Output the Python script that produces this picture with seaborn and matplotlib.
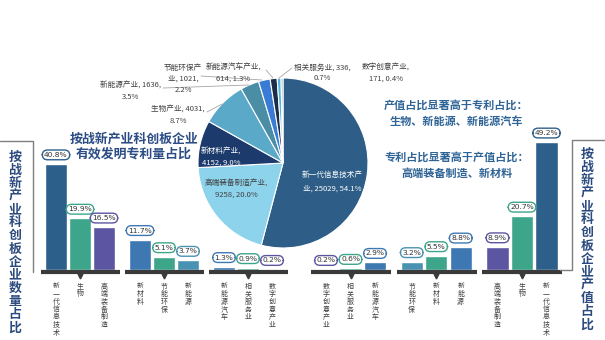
import matplotlib
matplotlib.use("Agg")
import matplotlib.pyplot as plt
import seaborn as sns
import pandas as pd
from matplotlib.lines import Line2D

sns.set_theme(style="white")
plt.rcParams['font.family'] = ['Noto Sans CJK SC', 'DejaVu Sans']

# ---------------- data ----------------
left_cats = ['新一代信息技术', '生物', '高端装备制造', '新材料', '节能环保', '新能源',
             '新能源汽车', '相关服务业', '数字创意产业']
left_vals = [40.8, 19.9, 16.5, 11.7, 5.1, 3.7, 1.3, 0.9, 0.2]

right_cats = ['数字创意产业', '相关服务业', '新能源汽车', '节能环保', '新材料', '新能源',
              '高端装备制造', '生物', '新一代信息技术']
right_vals = [0.2, 0.6, 2.9, 3.2, 5.5, 8.8, 8.9, 20.7, 49.2]

pie_cats = ['新一代信息技术产业', '高端装备制造产业', '新材料产业', '生物产业', '新能源产业',
            '节能环保产业', '新能源汽车产业', '相关服务业', '数字创意产业']
pie_counts = [25029, 9258, 4152, 4031, 1636, 1021, 614, 336, 171]
pie_pcts = [54.1, 20.0, 9.0, 8.7, 3.5, 2.2, 1.3, 0.7, 0.4]

left_title = '按战新产业科创板企业数量占比'
right_title = '按战新产业科创板企业产值占比'
pie_title = '按战新产业科创板企业\n有效发明专利量占比'
note1 = '产值占比显著高于专利占比：\n生物、新能源、新能源汽车'
note2 = '专利占比显著高于产值占比：\n高端装备制造、新材料'

# ---------------- styles ----------------
DARK = '#2D5F8B'; GREEN = '#3DA58A'; PURPLE = '#5B55A2'; BLUE = '#3E78B2'; TEAL = '#4A92B1'
left_colors = [DARK, GREEN, PURPLE, BLUE, GREEN, TEAL, BLUE, GREEN, PURPLE]
right_colors = [PURPLE, GREEN, BLUE, TEAL, GREEN, BLUE, PURPLE, GREEN, DARK]
pie_colors = ['#2E5E87', '#8DD3EC', '#1D3A6C', '#5BA9C9', '#4A8EA6', '#3A7BD5',
              '#1B2D47', '#4DB6DD', '#9AA9B5']
slot_pos = [0, 1, 2, 3.5, 4.5, 5.5, 7, 8, 9]
groups = [(0, 2), (3.5, 5.5), (7, 9)]

W, H = 605, 340
fig = plt.figure(figsize=(W / 100, H / 100), dpi=100)
fig.patch.set_facecolor('white')


def fx(x):
    return x / W


def fy(y):
    return 1 - y / H


def axes_px(l, t, r, b):
    return fig.add_axes([fx(l), fy(b), (r - l) / W, (b - t) / H])


def bar_panel(ax, cats, vals, colors, xlim):
    df = pd.DataFrame({'pos': slot_pos, 'val': vals, 'cat': cats})
    sns.barplot(data=df, x='pos', y='val', hue='cat', palette=dict(zip(cats, colors)),
                native_scale=True, width=0.9, dodge=False, legend=False,
                saturation=1, ax=ax, errorbar=None)
    ax.set_xlim(*xlim)
    ax.set_ylim(0, 50)
    ax.set_yticks([])
    ax.set_xlabel('')
    ax.set_ylabel('')
    for s in ax.spines.values():
        s.set_visible(False)
    ax.set_facecolor('none')
    ax.set_xticks(slot_pos)
    ax.set_xticklabels(['\n'.join(c) for c in cats], fontsize=5, color='#404040',
                       linespacing=0.95)
    ax.tick_params(axis='x', length=0, pad=9)
    for p, v, c in zip(slot_pos, vals, colors):
        ax.annotate(f'{v}%', xy=(p, v), xytext=(0, 6.5), textcoords='offset points',
                    ha='center', va='center', fontsize=5.4, color='#333333',
                    family='DejaVu Sans',
                    bbox=dict(boxstyle='round,pad=0.25,rounding_size=0.7', fc='white',
                              ec=c, lw=1))
    tr = ax.get_xaxis_transform()
    for a, b in groups:
        ax.plot([a - 0.62, b + 0.65], [-0.012, -0.012], color='#3A3A3A', lw=3,
                transform=tr, clip_on=False, solid_capstyle='butt')
        ax.plot([(a + b) / 2], [-0.045], marker='v', ms=3.5, color='#3A3A3A',
                transform=tr, clip_on=False)


ax_l = axes_px(33, 140, 295, 270)
bar_panel(ax_l, left_cats, left_vals, left_colors, ((33 - 56) / 24, (295 - 56) / 24))
ax_r = axes_px(312, 140, 560, 270)
bar_panel(ax_r, right_cats, right_vals, right_colors, ((312 - 326) / 24.5, (560 - 326) / 24.5))

# ---------------- pie ----------------
ax_p = axes_px(198, 78, 368, 248)
ax_p.pie(pie_counts, colors=pie_colors, startangle=90, counterclock=False,
         wedgeprops=dict(edgecolor='white', linewidth=0.8))
ax_p.set_xlim(-1, 1)
ax_p.set_ylim(-1, 1)


def T(x, y, s, **kw):
    fig.text(fx(x), fy(y), s, ha=kw.pop('ha', 'center'), va=kw.pop('va', 'center'), **kw)


def L(pts, **kw):
    fig.add_artist(Line2D([fx(p[0]) for p in pts], [fy(p[1]) for p in pts],
                          transform=fig.transFigure, **kw))


lab = dict(fontsize=5.5, color='#404040', linespacing=1.5)
T(183, 79, f'节能环保产\n业, {pie_counts[5]},\n{pie_pcts[5]}%', **lab)
T(233, 73, f'{pie_cats[6]},\n{pie_counts[6]}, {pie_pcts[6]}%', **lab)
T(322, 73, f'{pie_cats[7]}, {pie_counts[7]},\n{pie_pcts[7]}%', **lab)
T(386, 73, f'{pie_cats[8]},\n{pie_counts[8]}, {pie_pcts[8]}%', **lab)
T(131, 91, f'{pie_cats[4]}, {pie_counts[4]},\n{pie_pcts[4]}%', **lab)
T(178, 115, f'{pie_cats[3]}, {pie_counts[3]},\n{pie_pcts[3]}%', **lab)
T(221, 157, f'{pie_cats[2]},\n{pie_counts[2]}, {pie_pcts[2]}%', fontsize=5.5,
  color='white', linespacing=1.5)
T(236, 189, f'{pie_cats[1]},\n{pie_counts[1]}, {pie_pcts[1]}%', **lab)
T(332, 182, f'新一代信息技术产\n业, {pie_counts[0]}, {pie_pcts[0]}%', fontsize=5.5,
  color='white', linespacing=1.9)

lead = dict(color='#A6A6A6', lw=0.6)
L([(163, 88), (249, 85)], **lead)
L([(207, 112), (222, 104)], **lead)
L([(201, 76), (262, 80)], **lead)
L([(266, 70), (273, 78)], **lead)
L([(292, 68), (279, 78)], **lead)

# ---------------- titles ----------------
T(134, 146, pie_title, fontsize=9.3, weight='bold', color='#2B4C85', linespacing=1.15)
T(456, 113, note1, fontsize=8, weight='bold', color='#2F6497', linespacing=1.3)
T(457, 165, note2, fontsize=8, weight='bold', color='#2F6497', linespacing=1.3)

T(15, 242, '\n'.join(left_title), fontsize=9.3, weight='bold', color='#2B4A7E',
  linespacing=0.92)
T(587, 239, '\n'.join(right_title), fontsize=9.3, weight='bold', color='#2B4A7E',
  linespacing=0.92)

box = dict(color='#7F7F7F', lw=1)
L([(0, 141), (33, 141), (33, 272)], **box)
L([(605, 140), (572, 140), (572, 270), (560, 270)], **box)

fig.savefig('out.png', dpi=100, facecolor='white')
